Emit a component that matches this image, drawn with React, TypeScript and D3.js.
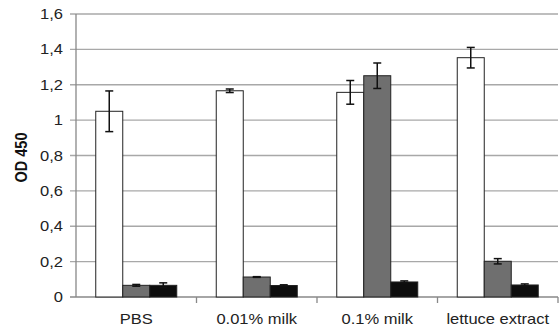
import React from "react";
import * as d3 from "d3";

const categories = ["PBS", "0.01% milk", "0.1% milk", "lettuce extract"];
const seriesNames = ["s1", "s2", "s3"];
const whiteValues = [1.05, 1.166, 1.157, 1.353];
const whiteErrors = [0.115, 0.01, 0.067, 0.058];
const grayValues = [0.066, 0.113, 1.251, 0.202];
const grayErrors = [0.005, 0.002, 0.072, 0.015];
const blackValues = [0.066, 0.065, 0.085, 0.068];
const blackErrors = [0.014, 0.004, 0.006, 0.006];
const yTicks = [0, 0.2, 0.4, 0.6, 0.8, 1, 1.2, 1.4, 1.6];
const colors = ["#ffffff", "#6f6f6f", "#0d0d0d"];

export default function App() {
  const W = 559, H = 329;
  const left = 76, right = 558, top = 14, bottom = 297;
  const y = d3.scaleLinear().domain([0, 1.6]).range([bottom, top]);
  const x0 = d3.scaleBand().domain(categories).range([left, right]).paddingInner(0).paddingOuter(0);
  const groupPad = 19.75;
  const x1 = d3.scaleBand().domain(seriesNames).range([groupPad, x0.bandwidth() - groupPad]).padding(0);
  const vals = [whiteValues, grayValues, blackValues];
  const errs = [whiteErrors, grayErrors, blackErrors];
  const fmt = (v: number) => (v === 0 || v === 1 ? String(v) : String(v).replace(".", ","));
  const font = "Liberation Sans, Arial, sans-serif";
  const sx = 1.18;

  return (
    <svg width={W} height={H} style={{ position: "absolute", left: 0, top: 0, background: "#fff" }}>
      {yTicks.map((t) => (
        <g key={t}>
          <line x1={left - 6} x2={right} y1={y(t)} y2={y(t)} stroke={t === 0 ? "#888" : "#a8a8a8"} strokeWidth={1.3} />
          <text transform={`translate(63,${y(t) + 5}) scale(${sx},1)`} textAnchor="end" fontFamily={font} fontSize={14} fill="#222">{fmt(t)}</text>
        </g>
      ))}
      <line x1={left} x2={left} y1={top} y2={bottom} stroke="#888" strokeWidth={1.3} />
      {categories.map((c, i) => (
        <line key={"tk" + i} x1={x0(c)! + x0.bandwidth()} x2={x0(c)! + x0.bandwidth()} y1={bottom} y2={bottom + 6} stroke="#888" strokeWidth={1.3} />
      ))}
      {categories.map((c, i) => (
        <g key={c} transform={`translate(${x0(c)},0)`}>
          {seriesNames.map((s, k) => {
            const v = vals[k][i];
            const e = errs[k][i];
            const bx = x1(s)!;
            const cx = bx + x1.bandwidth() / 2;
            return (
              <g key={s}>
                <rect x={bx} y={y(v)} width={x1.bandwidth()} height={bottom - y(v)} fill={colors[k]} stroke="#222" strokeWidth={1} />
                <line x1={cx} x2={cx} y1={y(v + e)} y2={y(v - e)} stroke="#111" strokeWidth={1.5} />
                <line x1={cx - 4} x2={cx + 4} y1={y(v + e)} y2={y(v + e)} stroke="#111" strokeWidth={1.5} />
                <line x1={cx - 4} x2={cx + 4} y1={y(v - e)} y2={y(v - e)} stroke="#111" strokeWidth={1.5} />
              </g>
            );
          })}
          <text transform={`translate(${x0.bandwidth() / 2},323.5) scale(${sx},1)`} textAnchor="middle" fontFamily={font} fontSize={14} fill="#222">{c}</text>
        </g>
      ))}
      <text transform={`translate(26.5,157.5) rotate(-90) scale(1,${sx})`} textAnchor="middle" fontFamily={font} fontSize={14.5} fontWeight="bold" fill="#111">OD 450</text>
    </svg>
  );
}
